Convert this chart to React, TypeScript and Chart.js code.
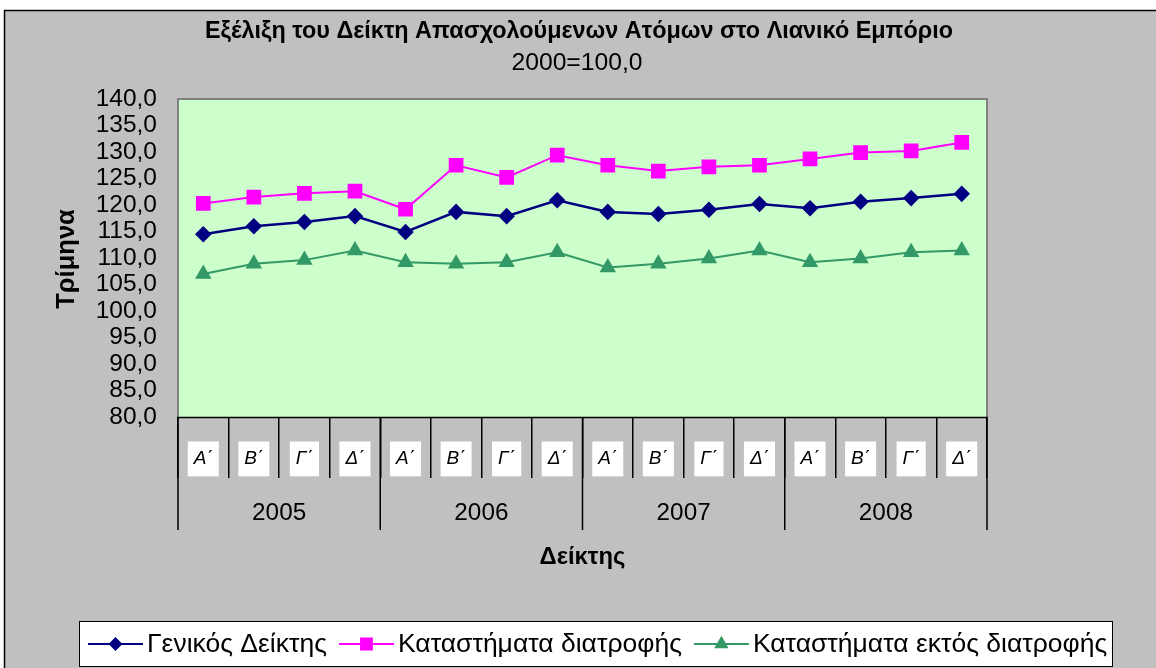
import React, { useEffect, useRef } from 'react';
import { Chart, registerables } from 'chart.js';
import { drawPoint } from 'chart.js/helpers';

Chart.register(...registerables);

const FONT = '"Liberation Sans", Arial, sans-serif';

const titleText = 'Εξέλιξη του Δείκτη Απασχολούμενων Ατόμων στο Λιανικό Εμπόριο';
const subtitleText = '2000=100,0';
const xAxisTitle = 'Δείκτης';
const yAxisTitle = 'Τρίμηνα';

const years = ['2005', '2006', '2007', '2008'];
const quarterNames = ['Α΄', 'Β΄', 'Γ΄', 'Δ΄'];
const categories = years.flatMap(() => quarterNames);

const seriesNames = ['Γενικός Δείκτης', 'Καταστήματα διατροφής', 'Καταστήματα εκτός διατροφής'];

const generalIndex = [114.5, 116.0, 116.8, 117.9, 114.9, 118.7, 117.9, 120.9, 118.7, 118.3, 119.1, 120.2, 119.4, 120.6, 121.3, 122.1];
const foodStores = [120.3, 121.5, 122.2, 122.6, 119.2, 127.5, 125.2, 129.4, 127.5, 126.4, 127.2, 127.5, 128.7, 129.9, 130.2, 131.8];
const nonFoodStores = [107.0, 108.9, 109.6, 111.4, 109.2, 108.9, 109.2, 111.1, 108.2, 108.9, 109.9, 111.4, 109.2, 109.9, 111.1, 111.4];

const yMin = 80;
const yMax = 140;
const yStep = 5;

const decorPlugin = {
  id: 'decor',
  beforeDraw(chart: any) {
    const { ctx, chartArea: a } = chart;
    ctx.save();
    ctx.fillStyle = '#ffffff';
    ctx.fillRect(0, 0, chart.width, chart.height);
    ctx.fillStyle = '#C0C0C0';
    ctx.fillRect(4, 10, chart.width, chart.height);
    ctx.strokeStyle = '#000000';
    ctx.lineWidth = 1.5;
    ctx.strokeRect(4.5, 10.5, chart.width + 20, chart.height + 20);
    ctx.fillStyle = '#CCFFCC';
    ctx.fillRect(a.left, a.top, a.right - a.left, a.bottom - a.top);
    ctx.restore();
  },
  beforeDatasetsDraw(chart: any) {
    const { ctx, chartArea: a } = chart;
    ctx.save();
    ctx.strokeStyle = '#808080';
    ctx.lineWidth = 2;
    ctx.beginPath();
    ctx.moveTo(a.left, a.bottom);
    ctx.lineTo(a.left, a.top);
    ctx.lineTo(a.right, a.top);
    ctx.lineTo(a.right, a.bottom);
    ctx.stroke();
    ctx.strokeStyle = '#000000';
    ctx.lineWidth = 1.5;
    ctx.beginPath();
    ctx.moveTo(a.left - 1, a.bottom + 0.5);
    ctx.lineTo(a.right + 1, a.bottom + 0.5);
    ctx.stroke();
    ctx.restore();
  },
  afterDraw(chart: any) {
    const { ctx, chartArea: a } = chart;
    const xs = chart.scales.x;
    ctx.save();
    // titles
    ctx.fillStyle = '#000';
    ctx.textAlign = 'center';
    ctx.textBaseline = 'alphabetic';
    ctx.font = `bold 23.4px ${FONT}`;
    ctx.fillText(titleText, 579, 38);
    ctx.font = `24.7px ${FONT}`;
    ctx.fillText(subtitleText, 577, 70);

    // year group dividers & labels
    const half = (xs.getPixelForValue(1) - xs.getPixelForValue(0)) / 2;
    ctx.strokeStyle = '#000';
    ctx.lineWidth = 1.5;
    for (let g = 0; g <= years.length; g++) {
      const px = g < years.length ? xs.getPixelForValue(g * 4) - half : xs.getPixelForValue(categories.length - 1) + half;
      ctx.beginPath();
      ctx.moveTo(px, a.bottom);
      ctx.lineTo(px, a.bottom + 113);
      ctx.stroke();
    }
    ctx.font = `24.3px ${FONT}`;
    ctx.textBaseline = 'middle';
    years.forEach((yr, g) => {
      const cx = (xs.getPixelForValue(g * 4) + xs.getPixelForValue(g * 4 + 3)) / 2;
      ctx.fillText(yr, cx, 513);
    });

    // axis titles
    ctx.font = `bold 23.8px ${FONT}`;
    ctx.fillText(xAxisTitle, (a.left + a.right) / 2, 557);
    ctx.save();
    ctx.translate(67, (a.top + a.bottom) / 2 + 1);
    ctx.rotate(-Math.PI / 2);
    ctx.font = `bold 25.5px ${FONT}`;
    ctx.fillText(yAxisTitle, 0, 0);
    ctx.restore();

    // legend
    ctx.fillStyle = '#ffffff';
    ctx.fillRect(79, 621, 1033, 45);
    ctx.strokeStyle = '#000';
    ctx.lineWidth = 1;
    ctx.strokeRect(79.5, 621.5, 1033, 45);
    let lx = 88;
    const ly = 644;
    ctx.font = `26.5px ${FONT}`;
    ctx.textAlign = 'left';
    ctx.textBaseline = 'middle';
    chart.data.datasets.forEach((ds: any) => {
      ctx.strokeStyle = ds.borderColor;
      ctx.lineWidth = 2;
      ctx.beginPath();
      ctx.moveTo(lx, ly);
      ctx.lineTo(lx + 55, ly);
      ctx.stroke();
      ctx.fillStyle = ds.pointBackgroundColor;
      ctx.strokeStyle = ds.pointBorderColor;
      drawPoint(ctx, { pointStyle: ds.pointStyle, radius: ds.pointRadius * 0.85, rotation: 0, borderWidth: 1 }, lx + 27.5, ly);
      ctx.fillStyle = '#000';
      const tx = lx + 59;
      ctx.fillText(ds.label, tx, ly + 1);
      lx = tx + ctx.measureText(ds.label).width + 12;
    });
    ctx.restore();
  },
};

export default function App() {
  const canvasRef = useRef<HTMLCanvasElement | null>(null);

  useEffect(() => {
    document.body.style.margin = '0';
    const canvas = canvasRef.current;
    if (!canvas) return;
    Chart.defaults.font.family = FONT;
    Chart.defaults.color = '#000';

    const chart = new Chart(canvas, {
      type: 'line',
      data: {
        labels: categories,
        datasets: [
          {
            label: seriesNames[0],
            data: generalIndex,
            borderColor: '#000080',
            backgroundColor: '#000080',
            pointBackgroundColor: '#000080',
            pointBorderColor: '#000080',
            pointStyle: 'rectRot',
            pointRadius: 6.5,
            borderWidth: 2.5,
            tension: 0,
          },
          {
            label: seriesNames[1],
            data: foodStores,
            borderColor: '#FF00FF',
            backgroundColor: '#FF00FF',
            pointBackgroundColor: '#FF00FF',
            pointBorderColor: '#FF00FF',
            pointStyle: 'rect',
            pointRadius: 9,
            borderWidth: 2,
            tension: 0,
          },
          {
            label: seriesNames[2],
            data: nonFoodStores,
            borderColor: '#339966',
            backgroundColor: '#339966',
            pointBackgroundColor: '#339966',
            pointBorderColor: '#339966',
            pointStyle: 'triangle',
            pointRadius: 7.5,
            borderWidth: 2,
            tension: 0,
          },
        ],
      },
      options: {
        responsive: false,
        animation: false,
        events: [],
        layout: { padding: { top: 99, right: 169, bottom: 151, left: 0 } },
        plugins: {
          legend: { display: false },
          title: { display: false },
          tooltip: { enabled: false },
        },
        scales: {
          x: {
            type: 'category',
            offset: true,
            afterFit: (s: any) => { s.height = 100; },
            grid: {
              display: true,
              drawOnChartArea: false,
              drawTicks: true,
              tickLength: 61,
              offset: true,
              color: '#000',
              lineWidth: 1.5,
            },
            border: { display: false },
            ticks: {
              autoSkip: false,
              maxRotation: 0,
              minRotation: 0,
              padding: -30.5,
              color: '#000',
              font: { size: 19, style: 'italic', family: FONT },
              showLabelBackdrop: true,
              backdropColor: '#ffffff',
              backdropPadding: { top: 6, bottom: 6, left: 6, right: 6 },
            },
          },
          y: {
            min: yMin,
            max: yMax,
            afterFit: (s: any) => { s.width = 178; },
            grid: { display: false, drawTicks: false },
            border: { display: false },
            ticks: {
              stepSize: yStep,
              autoSkip: false,
              padding: 21,
              color: '#000',
              font: { size: 24.5, family: FONT },
              callback: (v: any) => Number(v).toFixed(1).replace('.', ','),
            },
          },
        },
      },
      plugins: [decorPlugin],
    } as any);

    return () => chart.destroy();
  }, []);

  return (
    <div style={{ position: 'fixed', left: 0, top: 0, width: 1156, height: 668 }}>
      <canvas ref={canvasRef} width={1156} height={668} style={{ display: 'block' }} />
    </div>
  );
}
